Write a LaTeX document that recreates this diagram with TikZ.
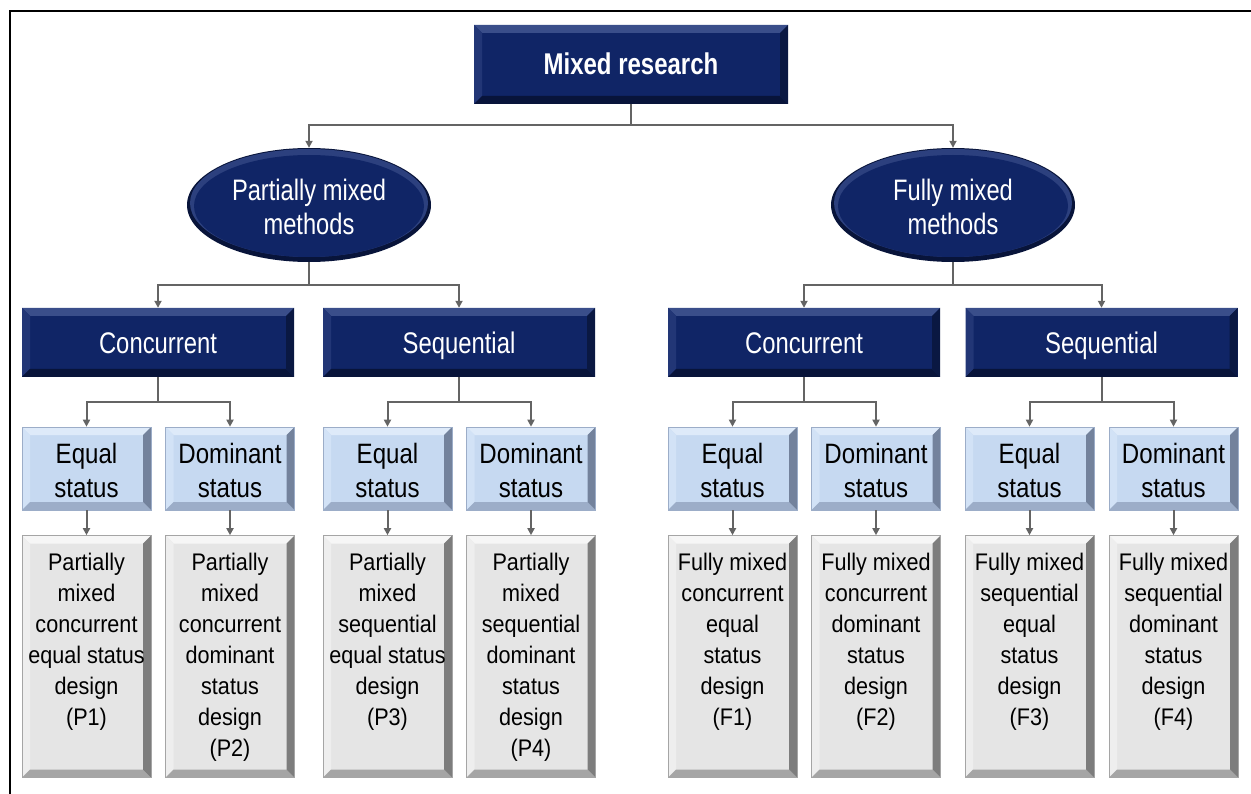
\documentclass[tikz,border=0pt]{standalone}
\usepackage{fontspec}
\setmainfont{Liberation Sans}[FakeStretch=0.9]
\newfontfamily\fnarrow{Liberation Sans}[FakeStretch=0.8]
\newfontfamily\fmid{Liberation Sans}[FakeStretch=0.86]
\usetikzlibrary{shapes.geometric,arrows.meta}
\definecolor{navy}{RGB}{16,37,102}
\definecolor{navylight}{RGB}{58,78,138}
\definecolor{navyleft}{RGB}{34,54,118}
\definecolor{navydark}{RGB}{8,20,58}
\definecolor{navyright}{RGB}{10,24,66}
\definecolor{navyrim}{RGB}{44,64,126}
\definecolor{lblue}{RGB}{198,217,241}
\definecolor{lbluetop}{RGB}{222,234,249}
\definecolor{lblueleft}{RGB}{210,226,246}
\definecolor{lbluebot}{RGB}{156,173,200}
\definecolor{lblueright}{RGB}{115,130,156}
\definecolor{gbox}{RGB}{229,229,229}
\definecolor{gtop}{RGB}{246,246,246}
\definecolor{gleft}{RGB}{238,238,238}
\definecolor{gbot}{RGB}{165,165,165}
\definecolor{gright}{RGB}{125,125,125}
\definecolor{linegray}{RGB}{100,100,100}
\newcommand\bevelpaint[4]{%
  \fill[#1] (path picture bounding box.north west) -- (path picture bounding box.north east)
    -- ([shift={(-8pt,-8pt)}]path picture bounding box.north east)
    -- ([shift={(8pt,-8pt)}]path picture bounding box.north west) -- cycle;
  \fill[#2] (path picture bounding box.north west) -- (path picture bounding box.south west)
    -- ([shift={(8pt,8pt)}]path picture bounding box.south west)
    -- ([shift={(8pt,-8pt)}]path picture bounding box.north west) -- cycle;
  \fill[#3] (path picture bounding box.south west) -- (path picture bounding box.south east)
    -- ([shift={(-8pt,8pt)}]path picture bounding box.south east)
    -- ([shift={(8pt,8pt)}]path picture bounding box.south west) -- cycle;
  \fill[#4] (path picture bounding box.north east) -- (path picture bounding box.south east)
    -- ([shift={(-8pt,8pt)}]path picture bounding box.south east)
    -- ([shift={(-8pt,-8pt)}]path picture bounding box.north east) -- cycle;}
\newcommand\btext[1]{\parbox[c][242pt][t]{129pt}{\centering\vspace*{18pt}#1\par}}
\newcommand\twoline[4]{\raisebox{0pt}[#1][#2]{\parbox[t]{#3}{\centering #4}}}
\tikzset{
  darkbox/.style={rectangle, inner sep=0pt, fill=navy, text=white, align=center,
    path picture={\bevelpaint{navylight}{navyleft}{navydark}{navyright}}},
  midbox/.style={darkbox, minimum width=272pt, minimum height=69pt,
    text height=23pt, text depth=0pt,
    font=\fnarrow\fontsize{29.8}{34}\selectfont},
  lightbox/.style={rectangle, inner sep=0pt, fill=lblue, draw=lbluebot, line width=0.6pt,
    text=black, minimum width=129pt, minimum height=83pt,
    font=\fmid\fontsize{28}{34}\selectfont,
    path picture={\bevelpaint{lbluetop}{lblueleft}{lbluebot}{lblueright}}},
  greybox/.style={rectangle, inner sep=0pt, fill=gbox, draw=gbot, line width=0.6pt,
    text=black, minimum width=129pt, minimum height=242pt,
    font=\fontsize{24}{31}\selectfont,
    path picture={\bevelpaint{gtop}{gleft}{gbot}{gright}}},
  ell/.style={ellipse, inner sep=0pt, minimum width=244pt, minimum height=114pt,
    fill=navydark, text=white, font=\fnarrow\fontsize{29.6}{34}\selectfont,
    path picture={
      \fill[navyrim] ([yshift=2pt]path picture bounding box.center) ellipse [x radius=119pt, y radius=54pt];
      \fill[navy] ([yshift=-1pt]path picture bounding box.center) ellipse [x radius=115pt, y radius=51pt];}},
  conn/.style={draw=linegray, line width=2pt, -{Triangle[length=7pt,width=7pt]}}
}
\begin{document}
\begin{tikzpicture}[x=1pt,y=1pt]
\useasboundingbox (0,0) rectangle (1251,-794);
\draw[line width=2.5pt] (10,-794) -- (10,-11) -- (1252,-11);

\node[darkbox, minimum width=314pt, minimum height=79pt, text height=21pt, text depth=0pt,
  font=\fnarrow\bfseries\fontsize{30}{34}\selectfont] (top) at (631,-64.5) {Mixed research};

\node[ell] (pm) at (309,-205) {\twoline{22pt}{30.8pt}{170pt}{Partially mixed\\methods}};
\node[ell] (fm) at (953,-205) {\twoline{22pt}{30.8pt}{170pt}{Fully mixed\\methods}};

\node[midbox] (pc) at (158,-342.5) {Concurrent};
\node[midbox] (ps) at (459,-342.5) {Sequential};
\node[midbox] (fc) at (804,-342.5) {Concurrent};
\node[midbox] (fs) at (1101.5,-342.5) {Sequential};

\node[lightbox] (pce) at (86.5,-468.5) {\twoline{20pt}{31pt}{129pt}{Equal\\status}};
\node[lightbox] (pcd) at (230,-468.5) {\twoline{20pt}{31pt}{129pt}{Dominant\\status}};
\node[lightbox] (pse) at (387.5,-468.5) {\twoline{20pt}{31pt}{129pt}{Equal\\status}};
\node[lightbox] (psd) at (531,-468.5) {\twoline{20pt}{31pt}{129pt}{Dominant\\status}};
\node[lightbox] (fce) at (732.5,-468.5) {\twoline{20pt}{31pt}{129pt}{Equal\\status}};
\node[lightbox] (fcd) at (876,-468.5) {\twoline{20pt}{31pt}{129pt}{Dominant\\status}};
\node[lightbox] (fse) at (1029.5,-468.5) {\twoline{20pt}{31pt}{129pt}{Equal\\status}};
\node[lightbox] (fsd) at (1173.5,-468.5) {\twoline{20pt}{31pt}{129pt}{Dominant\\status}};

\node[greybox] (p1) at (86.5,-656.5) {\btext{Partially\\mixed\\concurrent\\equal status\\design\\(P1)}};
\node[greybox] (p2) at (230,-656.5) {\btext{Partially\\mixed\\concurrent\\dominant\\status\\design\\(P2)}};
\node[greybox] (p3) at (387.5,-656.5) {\btext{Partially\\mixed\\sequential\\equal status\\design\\(P3)}};
\node[greybox] (p4) at (531,-656.5) {\btext{Partially\\mixed\\sequential\\dominant\\status\\design\\(P4)}};
\node[greybox] (f1) at (732.5,-656.5) {\btext{Fully mixed\\concurrent\\equal\\status\\design\\(F1)}};
\node[greybox] (f2) at (876,-656.5) {\btext{Fully mixed\\concurrent\\dominant\\status\\design\\(F2)}};
\node[greybox] (f3) at (1029.5,-656.5) {\btext{Fully mixed\\sequential\\equal\\status\\design\\(F3)}};
\node[greybox] (f4) at (1173.5,-656.5) {\btext{Fully mixed\\sequential\\dominant\\status\\design\\(F4)}};

\draw[conn] (top.south) -- ++(0,-21) -| (pm.north);
\draw[conn] (top.south) -- ++(0,-21) -| (fm.north);

\draw[conn] (pm.south) -- ++(0,-23) -| (pc.north);
\draw[conn] (pm.south) -- ++(0,-23) -| (ps.north);
\draw[conn] (fm.south) -- ++(0,-23) -| (fc.north);
\draw[conn] (fm.south) -- ++(0,-23) -| (fs.north);

\draw[conn] (pc.south) -- ++(0,-25) -| (pce.north);
\draw[conn] (pc.south) -- ++(0,-25) -| (pcd.north);
\draw[conn] (ps.south) -- ++(0,-25) -| (pse.north);
\draw[conn] (ps.south) -- ++(0,-25) -| (psd.north);
\draw[conn] (fc.south) -- ++(0,-25) -| (fce.north);
\draw[conn] (fc.south) -- ++(0,-25) -| (fcd.north);
\draw[conn] (fs.south) -- ++(0,-25) -| (fse.north);
\draw[conn] (fs.south) -- ++(0,-25) -| (fsd.north);

\draw[conn] (pce.south) -- (p1.north);
\draw[conn] (pcd.south) -- (p2.north);
\draw[conn] (pse.south) -- (p3.north);
\draw[conn] (psd.south) -- (p4.north);
\draw[conn] (fce.south) -- (f1.north);
\draw[conn] (fcd.south) -- (f2.north);
\draw[conn] (fse.south) -- (f3.north);
\draw[conn] (fsd.south) -- (f4.north);
\end{tikzpicture}
\end{document}
